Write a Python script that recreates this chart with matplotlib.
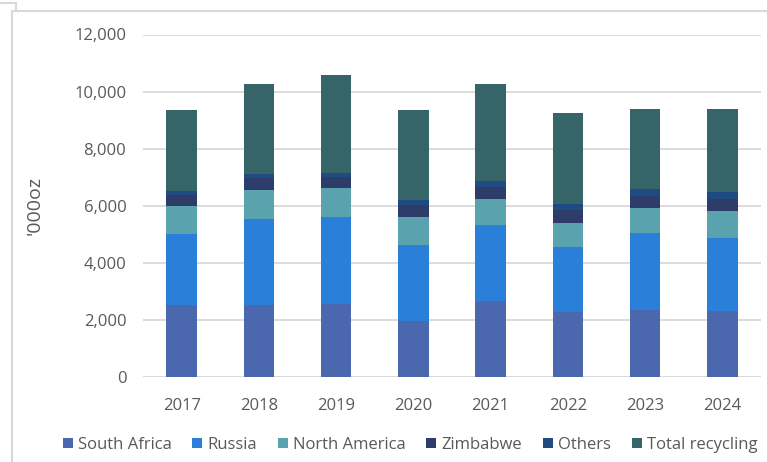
import matplotlib
matplotlib.use("Agg")
import matplotlib.pyplot as plt
from matplotlib.lines import Line2D
import numpy as np

years = ["2017", "2018", "2019", "2020", "2021", "2022", "2023", "2024"]
south_africa = [2520, 2520, 2560, 1950, 2640, 2270, 2340, 2310]
russia = [2480, 3000, 3030, 2660, 2690, 2290, 2700, 2570]
north_america = [990, 1040, 1010, 1000, 910, 840, 870, 920]
zimbabwe = [370, 400, 410, 410, 410, 440, 440, 440]
others = [150, 150, 140, 170, 210, 210, 230, 220]
total_recycling = [2850, 3140, 3430, 3170, 3390, 3210, 2820, 2940]

series = [
    ("South Africa", south_africa, "#4B67AD"),
    ("Russia", russia, "#2A80D8"),
    ("North America", north_america, "#5AA2AE"),
    ("Zimbabwe", zimbabwe, "#2D3C69"),
    ("Others", others, "#1E4C82"),
    ("Total recycling", total_recycling, "#356469"),
]

plt.rcParams['font.family'] = ['Open Sans', 'DejaVu Sans']
txt = "#595959"

fig = plt.figure(figsize=(7.67, 4.62), dpi=100)
ax = fig.add_axes([143/767, 1-376.7/462, (761-143)/767, (376.7-34.5)/462])

x = np.arange(len(years))
bottom = np.zeros(len(years))
for name, vals, col in series:
    ax.bar(x, vals, width=0.395, bottom=bottom, color=col, label=name, zorder=3)
    bottom += np.array(vals)

ax.set_xlim(-0.5, len(years) - 0.5)
ax.set_ylim(0, 12000)
ax.set_yticks(np.arange(0, 12001, 2000))
ax.set_yticklabels([f"{v:,}" for v in range(0, 12001, 2000)])
ax.set_xticks(x)
ax.set_xticklabels(years)
ax.grid(axis='y', color='#D9D9D9', linewidth=1.3, zorder=0)
for s in ax.spines.values():
    s.set_visible(False)
ax.tick_params(axis='both', length=0, colors=txt, labelsize=12)
ax.tick_params(axis='y', pad=12)
ax.tick_params(axis='x', pad=15)
ax.set_ylabel("'000oz", color=txt, fontsize=14, labelpad=22)

leg = fig.legend(loc='center', bbox_to_anchor=(410/767, 1-445/462), ncol=6,
                 frameon=False, fontsize=12, handlelength=0.6, handleheight=0.6,
                 handletextpad=0.3, columnspacing=1.25, labelcolor=txt)

# chart border fragments
bc = "#D9D9D9"
fig.add_artist(Line2D([12/767, 12/767], [0, 1-11/462], transform=fig.transFigure, color=bc, lw=1.5))
fig.add_artist(Line2D([12/767, 1], [1-11/462, 1-11/462], transform=fig.transFigure, color=bc, lw=1.5))
fig.add_artist(Line2D([0, 16/767], [1-3/462, 1-3/462], transform=fig.transFigure, color=bc, lw=1.5))
fig.add_artist(Line2D([16/767, 16/767], [1-3/462, 1-11/462], transform=fig.transFigure, color=bc, lw=1.5))

fig.savefig("out.png", dpi=100)
